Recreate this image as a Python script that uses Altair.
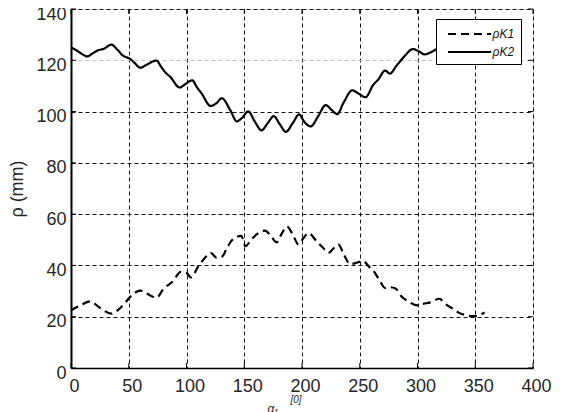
import altair as alt
import pandas as pd

# ---- data ----
k2_x = [0, 5, 10, 14, 19, 24, 28, 35, 40, 45, 51, 55, 60, 66, 74, 78, 82, 86, 94, 99,
        105, 109, 113, 121, 126, 130.5, 138, 143.5, 148, 153.5, 159, 165, 170.5, 175.5,
        181, 186, 192, 197.5, 202, 207.5, 214, 220.5, 225.5, 230.5, 236, 243.5, 249, 255,
        261.5, 266, 272, 276, 282, 289, 296, 301, 306, 311, 317, 322, 328, 334, 340, 346,
        352, 358]
k2_y = [125, 123.8, 122.3, 121.5, 122.8, 124, 124.4, 126.1, 124.2, 121.8, 120.6, 119, 117.1,
        118.4, 119.9, 117.5, 115.1, 113.5, 109.4, 110.7, 112.2, 109.5, 107.1, 102.2, 103.3,
        105.2, 100.5, 96.2, 97.5, 100.1, 96.2, 92.7, 95.6, 98.2, 94.9, 92.1, 95.5, 98.9, 96,
        94.2, 98.2, 102.5, 100.7, 99, 103.5, 108.3, 107, 105.6, 110.3, 112.5, 116, 114.8,
        118, 121.7, 124.4, 123.5, 122.3, 123, 124.5, 125.5, 126, 124, 122, 121.5, 122.5,
        124.5]
k1_x = [0, 8, 16.5, 25, 35, 44, 52.5, 60, 64, 70, 74, 80, 88.6, 95, 99.6, 104, 110, 116,
        121, 126, 131, 135, 141, 147.5, 151, 156, 161, 168, 173, 178, 182, 187, 192, 197,
        201, 205.5, 212.7, 218, 223, 227, 231.5, 236, 241.5, 247, 253, 258, 263, 268, 272,
        276, 281, 286, 292, 300, 305, 311, 319, 324, 330, 336, 342, 348, 353, 358]
k1_y = [22.5, 24.4, 26, 23.5, 21.2, 24, 28.3, 30.2, 29.5, 28, 27.4, 30.8, 34, 37.5, 37.2,
        35.3, 39.5, 43, 44.9, 43, 43.5, 46.8, 50.5, 51.5, 47.5, 50, 52.2, 53.6, 51.5, 49,
        52, 55.2, 52, 48.2, 50.5, 52.6, 49.4, 47, 44.9, 46.5, 48.2, 44.5, 40.5, 41, 41.7,
        39.5, 37.2, 33.5, 31.2, 31.5, 31, 28, 26, 24.4, 25, 25.6, 27, 25, 23.3, 21.5, 20.6,
        20.2, 20.5, 21.7]
series_names = ["ρK1", "ρK2"]
x_ticks = [0, 50, 100, 150, 200, 250, 300, 350, 400]
y_ticks = [0, 20, 40, 60, 80, 100, 120, 140]

W, H = 462, 359
FONT = "Liberation Sans"

df = pd.concat([
    pd.DataFrame({"x": k1_x, "y": k1_y, "s": series_names[0], "o": range(len(k1_x))}),
    pd.DataFrame({"x": k2_x, "y": k2_y, "s": series_names[1], "o": range(len(k2_x))}),
])
xt = pd.DataFrame({"x": x_ticks})
yt = pd.DataFrame({"y": y_ticks})

xscale = alt.Scale(domain=[0, 400], nice=False, zero=False)
yscale = alt.Scale(domain=[0, 140], nice=False, zero=False)

x_axis = alt.Axis(values=x_ticks, grid=True, gridColor="#111", gridDash=[4, 3], gridWidth=1,
                  ticks=False, domainColor="black", domainWidth=1.5,
                  labelFont=FONT, labelFontSize=18, labelColor="#262626", labelPadding=9,
                  labelFlush=False, labelOffset=3,
                  title="α₁", titleFont=FONT,
                  titleFontSize=12, titleFontStyle="italic", titleFontWeight="normal",
                  titleColor="#262626", titleAlign="left", titleAnchor="start",
                  titleX=196, titleY=35, titleBaseline="top")
y_axis = alt.Axis(values=y_ticks, grid=True,
                  gridColor=alt.condition("datum.value == 120", alt.value("#c0c0c0"),
                                          alt.value("#111111")),
                  gridDash=[4, 3], gridWidth=1,
                  ticks=False, domainColor="black", domainWidth=2,
                  labelFont=FONT, labelFontSize=18, labelColor="#262626", labelPadding=5,
                  labelOffset=5,
                  title="ρ (mm)", titleFont=FONT, titleFontSize=18, titleFontWeight="normal",
                  titleColor="#262626", titleX=-54, titleY=H / 2, titleAngle=-90,
                  titleAlign="center", titleBaseline="middle")

lines = alt.Chart(df).mark_line(color="black", strokeWidth=2.2, interpolate="monotone").encode(
    x=alt.X("x:Q", scale=xscale, axis=x_axis),
    y=alt.Y("y:Q", scale=yscale, axis=y_axis),
    order="o:Q",
    strokeDash=alt.StrokeDash(
        "s:N",
        scale=alt.Scale(domain=series_names, range=[[8, 5], [1, 0]]),
        legend=alt.Legend(title=None, orient="none", legendX=365, legendY=10,
                          fillColor="white", strokeColor="black", padding=6,
                          cornerRadius=0, symbolType="M-2.7,0H2.7", symbolSize=256,
                          symbolOffset=18.6, symbolStrokeWidth=2,
                          symbolStrokeColor="black", symbolFillColor="transparent",
                          labelFont=FONT, labelFontSize=12, labelFontStyle="italic",
                          labelColor="#111", labelOffset=14, rowPadding=3),
    ),
)

tick_bottom = alt.Chart(xt).mark_rule(color="black", strokeWidth=1).encode(
    x=alt.X("x:Q", scale=xscale,
            axis=alt.Axis(orient="top", labels=False, ticks=False, domain=False, grid=False,
                          title="[0]", titleFont=FONT, titleFontSize=10,
                          titleFontStyle="italic", titleFontWeight="normal",
                          titleColor="#262626", titleAlign="left", titleAnchor="start",
                          titleX=219, titleY=H + 26, titleBaseline="top")),
    y=alt.value(H), y2=alt.value(H - 5))
tick_top = alt.Chart(xt).mark_rule(color="black", strokeWidth=1).encode(
    x=alt.X("x:Q", scale=xscale, axis=None), y=alt.value(0), y2=alt.value(5))
tick_left = alt.Chart(yt).mark_rule(color="black", strokeWidth=1).encode(
    y=alt.Y("y:Q", scale=yscale), x=alt.value(0), x2=alt.value(5))
tick_right = alt.Chart(yt).mark_rule(color="black", strokeWidth=1).encode(
    y=alt.Y("y:Q", scale=yscale), x=alt.value(W), x2=alt.value(W - 5))

chart = alt.layer(lines, tick_bottom, tick_top, tick_left, tick_right).resolve_axis(
    x="independent"
).properties(
    width=W, height=H,
    autosize=alt.AutoSizeParams(type="none"),
    padding={"left": 63, "top": 1, "right": 20, "bottom": 44},
).configure_view(stroke="black", strokeWidth=1.5).configure(background="white")

chart.save("out.html", embed_options={"renderer": "svg", "actions": False})
